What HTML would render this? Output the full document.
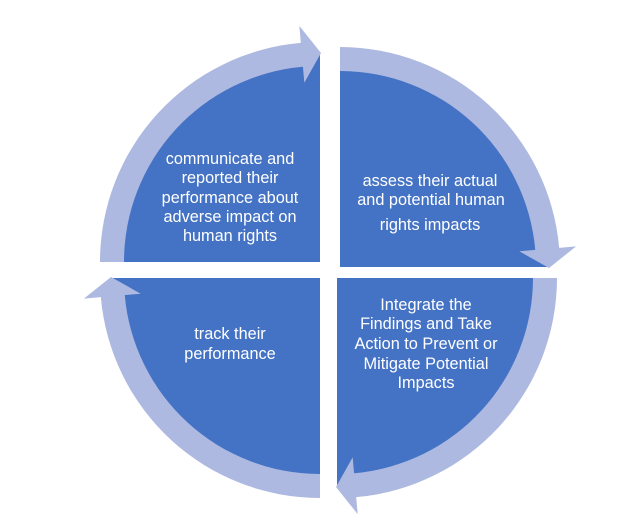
<!DOCTYPE html>
<html>
<head>
<meta charset="utf-8">
<style>
  html, body { margin: 0; padding: 0; background: #ffffff; }
  body { width: 631px; height: 532px; overflow: hidden; }
  svg { display: block; }
  text { font-family: "Liberation Sans", "DejaVu Sans", sans-serif; font-size: 16.3px; fill: #ffffff; }
</style>
</head>
<body>
<svg width="631" height="532" viewBox="0 0 631 532" xmlns="http://www.w3.org/2000/svg">
  <defs>
    <path id="pie" d="M0,0 L-208,0 A208,208 0 0 1 0,-208 Z"/>
    <path id="band" d="M-220,0 A220,220 0 0 1 -19.17,-219.16 L-20.66,-236.1 L1,-209 L-15.69,-179.31 L-17.08,-195.25 A196,196 0 0 0 -196,0 Z"/>
  </defs>

  <!-- Top-left -->
  <g transform="translate(320,262)">
    <use href="#pie" fill="#4472C4"/>
    <use href="#band" fill="#ADB9E0"/>
  </g>
  <!-- Top-right -->
  <g transform="translate(340,267) rotate(90)">
    <use href="#pie" fill="#4472C4"/>
    <use href="#band" fill="#ADB9E0"/>
  </g>
  <!-- Bottom-right -->
  <g transform="translate(337,278) rotate(180)">
    <use href="#pie" fill="#4472C4"/>
    <use href="#band" fill="#ADB9E0"/>
  </g>
  <!-- Bottom-left -->
  <g transform="translate(320,278) rotate(270)">
    <use href="#pie" fill="#4472C4"/>
    <use href="#band" fill="#ADB9E0"/>
  </g>

  <!-- Texts -->
  <g text-anchor="middle">
    <text x="230" y="164">communicate and</text>
    <text x="230" y="183">reported their</text>
    <text x="230" y="203">performance about</text>
    <text x="230" y="222">adverse impact on</text>
    <text x="230" y="241">human rights</text>

    <text x="430" y="186">assess their actual</text>
    <text x="431" y="205">and potential human</text>
    <text x="430" y="230">rights impacts</text>

    <text x="230" y="339">track their</text>
    <text x="230" y="359">performance</text>

    <text x="426" y="310">Integrate the</text>
    <text x="426" y="329">Findings and Take</text>
    <text x="426" y="349">Action to Prevent or</text>
    <text x="426" y="369">Mitigate Potential</text>
    <text x="426" y="388">Impacts</text>
  </g>
</svg>
</body>
</html>
